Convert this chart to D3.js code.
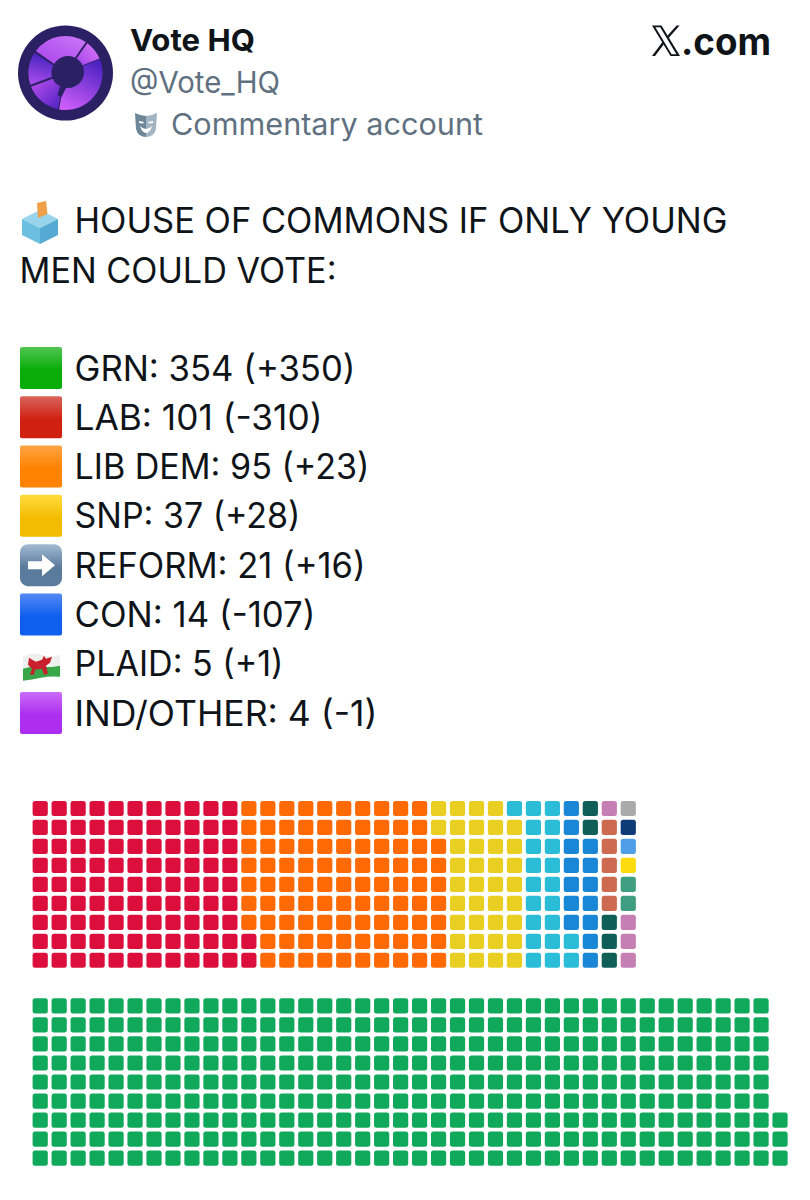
<!DOCTYPE html>
<html><head><meta charset="utf-8">
<script src="https://cdn.jsdelivr.net/npm/d3@7"></script>
<style>html,body{margin:0;padding:0;background:#fff}svg{display:block}</style>
</head><body><div id="c"></div>
<script>
// ---- data ----
const parties = ["GRN","LAB","LIB DEM","SNP","REFORM","CON","PLAID","IND/OTHER"];
const seats   = [354,101,95,37,21,14,5,4];
const changes = ["+350","-310","+23","+28","+16","-107","+1","-1"];
const upperNames  = ["LAB","LIB DEM","SNP","REFORM","CON","PLAID","OTHER A","OTHER B","OTHER C","OTHER D","OTHER E","OTHER F","OTHER G"];
const upperSeats  = [101,95,37,21,14,5,5,4,2,1,1,1,1];
const upperColors = ["#dc0f3c","#ff6a05","#e9cf22","#2bbcd8","#1a87d6","#0f5f58","#cd6a50","#c57fb3","#3f9d80","#fcdc0e","#4f9ee8","#0f3a78","#aaaaaa"];
const lowerNames  = ["GRN"];
const lowerSeats  = [354];
const lowerColors = ["#10a85a"];
const titleLines  = ["HOUSE OF COMMONS IF ONLY YOUNG","MEN COULD VOTE:"];
const legendTop   = ["#52c452","#d9655d","#ffa445","#ffdb3e","#a3bbd2","#5589f5",null,"#cb6cf8"];
const legendBot   = ["#08ad08","#cf2010","#ff8200","#f3bc00","#5a7b9c","#0f5fee",null,"#ad2eee"];

// ---- canvas ----
const W=810,H=1200;
const svg=d3.select("#c").append("svg").attr("width",W).attr("height",H);
svg.append("rect").attr("width",W).attr("height",H).attr("fill","#fff");
const FONT='Inter,"Liberation Sans",Arial,sans-serif';
const defs=svg.append("defs");
function grad(id,stops,x1=0,y1=0,x2=0,y2=1){const g=defs.append("linearGradient").attr("id",id).attr("x1",x1).attr("y1",y1).attr("x2",x2).attr("y2",y2);
 stops.forEach(s=>g.append("stop").attr("offset",s[0]).attr("stop-color",s[1]));return `url(#${id})`;}
function txt(x,y,s,size,fill,w,len){const t=svg.append("text").attr("x",x).attr("y",y).text(s).attr("font-family",FONT).attr("font-size",size).attr("fill",fill).attr("font-weight",w||400);
 if(len)t.attr("textLength",len).attr("lengthAdjust","spacingAndGlyphs");return t;}

// ---- avatar ----
const av=svg.append("g").attr("transform","translate(65.5,73)");
av.append("circle").attr("r",47.5).attr("fill","#2b2063");
const rad=d=>d*Math.PI/180;
const sect=[[-55,35,"#a845ec","#c670f6",0.1,1,0.9,0.2,0.07],[35,68,"#e07bf8","#9a3fe8",1,0,0,1,0.05],[68,190,"#4a20c0","#c95cf8",0.8,0,0.3,1,0],[190,250,"#4a20c0","#c050f0",1,1,0,0,0.07],[250,305,"#4020bc","#a84ceb",0.6,0,0.4,1,0.07]];
sect.forEach((s,i)=>{
  const g=grad("av"+i,[[0,s[2]],[1,s[3]]],s[4],s[5],s[6],s[7]);
  av.append("path").attr("d",d3.arc().innerRadius(14).outerRadius(37).padAngle(s[8]).padRadius(30)({startAngle:rad(s[0]),endAngle:rad(s[1])})).attr("fill",g);
});
av.append("circle").attr("r",16).attr("cx",2.5).attr("cy",-1).attr("fill","#2b2063");
av.append("path").attr("d","M-5,12 L-8,22 L-4,24 L1,14Z").attr("fill","#2b2063");

// ---- header ----
txt(130,51,"Vote HQ",30,"#0f1419",700,125);
txt(130,92.5,"@Vote_HQ",30,"#5f7180",400,150);
txt(171,135,"Commentary account",30,"#5f7180",400,312);
const mask=svg.append("g").attr("transform","translate(135,112)");
mask.append("path").attr("d","M0,1 Q6,4 11,4 V25 Q3,25 1,17 Z").attr("fill","#6d8798");
mask.append("path").attr("d","M22,1 Q16,4 11,4 V25 Q19,25 21,17 Z").attr("fill","#a3b5c3");
mask.append("path").attr("d","M5,14 Q11,20 17,14 Q15,21 11,21 Q7,21 5,14Z").attr("fill","#fff");
mask.append("path").attr("d","M4,9 L9,10 L8,11.5 L4,11Z M18,9 L13,10 L14,11.5 L18,11Z").attr("fill","#fff");
// X.com
const xl=svg.append("g").attr("transform","translate(652,25.5)");
xl.append("path").attr("d","M0,0 H9.5 L28,30.5 H18.5 Z M3.4,1.8 L19.6,28.7 H24.4 L8.2,1.8 Z").attr("fill","#0f1419").attr("fill-rule","evenodd");
xl.append("path").attr("d","M24.6,0 H27.6 L16.6,12.6 L15.2,10.4 Z M10.6,16.3 L12,18.5 L3,30.5 H0 Z").attr("fill","#0f1419");
txt(681,55,".com",37.5,"#0f1419",700,90);

// ---- ballot box emoji ----
const bb=svg.append("g");
bb.append("path").attr("d","M22,219 L40,210 L58,219 L40,228Z").attr("fill","#98d5ec");
bb.append("path").attr("d","M37,203 L46,201 L47.5,214 L38,218Z").attr("fill","#ee9f48");
bb.append("path").attr("d","M22,219 L40,228 L40,244 L22,235Z").attr("fill","#6cbfe0");
bb.append("path").attr("d","M58,219 L40,228 L40,244 L58,235Z").attr("fill","#55aad4");

// ---- title ----
txt(74.5,232.5,titleLines[0],34.8,"#0f1419",400,653);
txt(19.5,282.5,titleLines[1],34.8,"#0f1419",400,317);

// ---- legend ----
const legY=d3.scaleLinear().domain([0,7]).range([347,692]);
const legLen=[281,248,295,226,291,241,209,303];
parties.forEach((p,i)=>{
  const y=legY(i);
  if(legendTop[i]){
    const g=grad("l"+i,[[0,legendTop[i]],[0.55,legendBot[i]],[1,legendBot[i]]]);
    svg.append("rect").attr("x",20).attr("y",y).attr("width",42).attr("height",42).attr("rx",i===4?8:2).attr("fill",g);
  } else {
    const f=svg.append("g").attr("transform",`translate(23,${y+11})`);
    f.append("path").attr("d","M0,3 Q9,-2 18,1 T37,1 V13 Q27,11 18,13 T0,16Z").attr("fill","#eef0ee");
    f.append("path").attr("d","M0,15 Q9,12 18,13 T37,12 V23 Q27,22 18,24 T0,27Z").attr("fill","#3aa64a");
    f.append("path").attr("d","M5,11 L6,4 L11,7 L13,8 L19,6 L21,2 L23,5 L29,3 L27,9 L23,12 L25,20 L21,21 L19,15 L12,16 L11,21 L7,21 L9,15Z").attr("fill","#c8202c");
  }
  if(i===4){
    svg.append("path").attr("transform",`translate(28,${y+10})`)
      .attr("d","M0,7 H14 V0 L27,11 L14,22 V15 H0Z").attr("fill","#fff");
  }
  txt(74.5,y+33.5,`${p}: ${seats[i]} (${changes[i]})`,34.8,"#0f1419",400,legLen[i]);
});

// ---- waffles ----
function waffle(names,values,colors,x0,y0,nCols,pitchY){
  const cells=[];let n=0;
  values.forEach((v,k)=>{for(let i=0;i<v;i++,n++)cells.push({c:colors[k],name:names[k],col:Math.floor(n/9),row:8-n%9});});
  const xs=d3.scaleLinear().domain([0,nCols]).range([x0,x0+nCols*18.97]);
  const ys=d3.scaleLinear().domain([0,9]).range([y0,y0+9*pitchY]);
  svg.append("g").selectAll("rect").data(cells).join("rect")
    .attr("x",d=>xs(d.col)).attr("y",d=>ys(d.row)).attr("width",15.2).attr("height",15.2).attr("rx",2.5)
    .attr("fill",d=>d.c);
}
waffle(upperNames,upperSeats,upperColors,32.6,800.9,32,18.97);
waffle(lowerNames,lowerSeats,lowerColors,32.6,998.3,40,19.03);
</script></body></html>
